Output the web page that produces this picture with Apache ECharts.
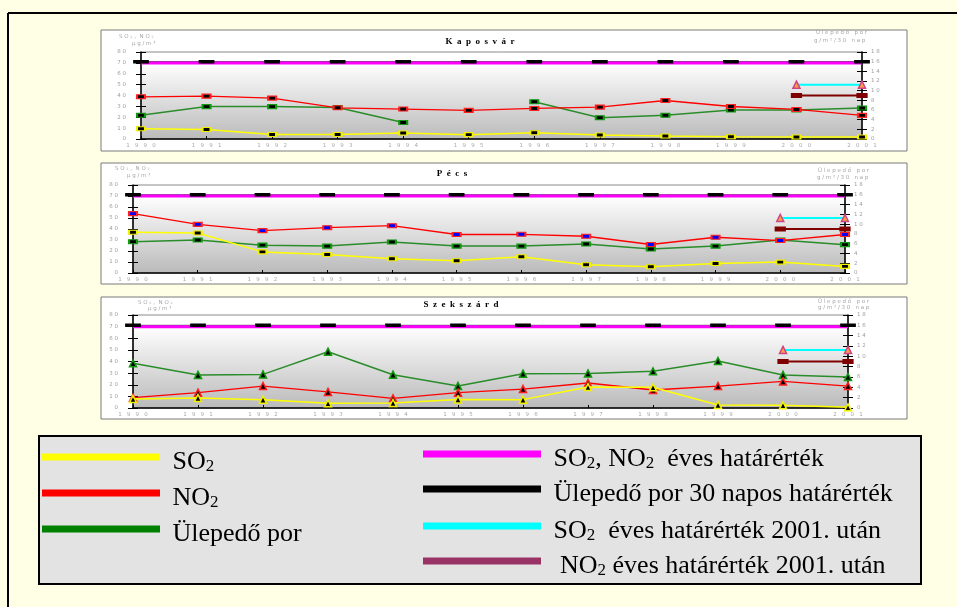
<!DOCTYPE html>
<html><head><meta charset="utf-8">
<script src="https://cdn.jsdelivr.net/npm/echarts@6/dist/echarts.min.js"></script>
<style>html,body{margin:0;padding:0;background:#FFFFE5;}#c{width:957px;height:607px;}</style>
</head><body><div id="c"></div>
<script>
// ---------- data ----------
const years = ['1990','1991','1992','1993','1994','1995','1996','1997','1998','1999','2000','2001'];

const kaposvarSO2  = [9.4, 8.8, 4.2, 4.2, 5.5, 4.0, 5.8, 3.7, 2.7, 2.1, 1.8, 1.8];
const kaposvarNO2  = [38.8, 39.4, 37.6, 28.7, 27.5, 26.3, 28.1, 29.3, 35.4, 29.9, 27.2, 21.7];
const kaposvarDust = [4.9, 6.7, 6.7, 6.5, 3.4, null, 7.7, 4.4, 4.9, 6.0, 6.0, 6.4];

const pecsSO2  = [37.0, 36.4, 19.2, 16.8, 12.9, 11.1, 14.7, 7.5, 5.7, 8.7, 9.9, 6.0];
const pecsNO2  = [54.0, 44.2, 38.5, 41.2, 43.0, 35.0, 35.2, 33.4, 25.9, 32.5, 29.5, 35.0];
const pecsDust = [6.4, 6.75, 5.7, 5.5, 6.35, 5.5, 5.5, 5.95, 4.9, 5.5, 6.75, 5.8];

const szekszardSO2  = [7.7, 8.6, 7.2, 4.0, 4.3, 7.4, 7.2, 18.0, 17.8, 2.6, 2.3, 0.6];
const szekszardNO2  = [8.9, 13.2, 18.9, 13.8, 8.3, 13.2, 16.3, 21.5, 15.5, 18.9, 22.9, 18.9];
const szekszardDust = [8.65, 6.4, 6.5, 10.9, 6.45, 4.25, 6.65, 6.7, 7.1, 9.1, 6.4, 6.0];

const limitAnnual       = [70, 70, 70, 70, 70, 70, 70, 70, 70, 70, 70, 70];
const limitDust30       = [16, 16, 16, 16, 16, 16, 16, 16, 16, 16, 16, 16];
const limitSO2After2001 = [null, null, null, null, null, null, null, null, null, null, 50, 50];
const limitNO2After2001 = [null, null, null, null, null, null, null, null, null, null, 40, 40];

const leftAxisRange  = [0, 80, 10];
const rightAxisRange = [0, 18, 2];

const panelTitles = ['K  a  p  o  s  v  á  r', 'P  é  c  s', 'S  z  e  k  s  z  á  r  d'];
const leftAxisName  = ['S O ₂ ,  N O ₂', 'µ g / m ³'];
const rightAxisName = ['Ü l e p e d ő   p o r', 'g / m ² / 3 0   n a p'];

// ---------- layout ----------
const SERIF = 'Liberation Serif';
const panels = [
  {title: panelTitles[0], so2: kaposvarSO2, no2: kaposvarNO2, dust: kaposvarDust,
   box: [101, 30, 806, 121], grid: [141, 52, 721, 87], titleXY: [480, 42],
   lName: [[119, 37], [132, 44]], rName: [[816, 33], [814, 41]],
   sym: 'rect', symSize: [8, 4], no2Fill: '#000'},
  {title: panelTitles[1], so2: pecsSO2, no2: pecsNO2, dust: pecsDust,
   box: [101, 163, 806, 121], grid: [133, 185, 712, 88], titleXY: [452, 174],
   lName: [[115, 169], [127, 176]], rName: [[818, 171], [817, 178]],
   sym: 'rect', symSize: [8, 4], no2Fill: '#0000ff'},
  {title: panelTitles[2], so2: szekszardSO2, no2: szekszardNO2, dust: szekszardDust,
   box: [101, 297, 806, 122], grid: [133, 315, 715, 93], titleXY: [461, 305],
   lName: [[138, 303], [148, 309]], rName: [[818, 302], [818, 308]],
   sym: 'triangle', symSize: 7, no2Fill: '#000'}
];

const spaced = v => String(v).split('').join(' ');
const grids = [], xAxes = [], yAxes = [], series = [], graphics = [];

graphics.push({type: 'line', z: -5, shape: {x1: 8, y1: 13, x2: 960, y2: 13}, style: {stroke: '#000', lineWidth: 2}});
graphics.push({type: 'line', z: -5, shape: {x1: 8, y1: 13, x2: 8, y2: 610}, style: {stroke: '#000', lineWidth: 2}});

function yAxisDef(i, pos, range, inside) {
  return {
    type: 'value', gridIndex: i, position: pos, min: range[0], max: range[1], interval: range[2],
    axisLine: {show: !inside, lineStyle: {color: '#000', width: 1.5}},
    axisTick: {show: true, inside: inside, length: 5, lineStyle: {color: '#000', width: 1}},
    axisLabel: {show: !inside, fontSize: 5.5, color: '#a0a0a0', fontFamily: 'DejaVu Sans',
                margin: pos === 'left' ? 15 : 9, formatter: v => spaced(v)},
    splitLine: {show: false}
  };
}

panels.forEach((p, i) => {
  graphics.push({type: 'rect', z: -4, shape: {x: p.box[0], y: p.box[1], width: p.box[2], height: p.box[3]},
                 style: {fill: '#ffffff', stroke: '#7a7a7a', lineWidth: 1}});
  graphics.push({type: 'text', z: 10, x: p.titleXY[0], y: p.titleXY[1],
                 style: {text: p.title, fontFamily: SERIF, fontSize: 9, fontWeight: 'bold', fill: '#000', align: 'center', verticalAlign: 'middle'}});
  [0, 1].forEach(k => {
    graphics.push({type: 'text', z: 10, x: p.lName[k][0], y: p.lName[k][1],
                   style: {text: leftAxisName[k], fontFamily: 'DejaVu Sans', fontSize: 5.5, fill: '#a8a8a8', verticalAlign: 'middle'}});
    graphics.push({type: 'text', z: 10, x: p.rName[k][0], y: p.rName[k][1],
                   style: {text: rightAxisName[k], fontFamily: 'DejaVu Sans', fontSize: 5.5, fill: '#a8a8a8', verticalAlign: 'middle'}});
  });

  grids.push({left: p.grid[0], top: p.grid[1], width: p.grid[2], height: p.grid[3], show: true,
    backgroundColor: new echarts.graphic.LinearGradient(0, 0, 0, 1, [
      {offset: 0, color: '#ffffff'}, {offset: 0.125, color: '#ffffff'}, {offset: 1, color: '#bababa'}]),
    borderColor: '#8a8a8a', borderWidth: 1});

  xAxes.push({type: 'category', gridIndex: i, data: years, boundaryGap: false,
    axisLine: {lineStyle: {color: '#000', width: 1.5}},
    axisTick: {inside: true, length: 3, lineStyle: {color: '#000'}},
    axisLabel: {fontSize: 5.5, color: '#a8a8a8', fontFamily: 'DejaVu Sans', margin: 4, formatter: v => spaced(v).replace(/ /g, '   ')},
    splitLine: {show: false}});

  const base = yAxes.length;
  yAxes.push(yAxisDef(i, 'left', leftAxisRange, false));
  yAxes.push(yAxisDef(i, 'left', leftAxisRange, true));
  yAxes.push(yAxisDef(i, 'right', rightAxisRange, false));
  yAxes.push(yAxisDef(i, 'right', rightAxisRange, true));

  const mk = (name, data, color, width, yIdx, sym, size, fill, border, z, lineOpacity) => ({
    name, type: 'line', xAxisIndex: i, yAxisIndex: base + yIdx, data, connectNulls: false,
    symbol: sym, symbolSize: size, showSymbol: sym !== 'none', z,
    lineStyle: {color, width, opacity: lineOpacity === undefined ? 1 : lineOpacity},
    itemStyle: {color: fill, borderColor: border, borderWidth: 1.5},
    emphasis: {disabled: true}, silent: true, animation: false
  });

  series.push(mk('Ülepedő por 30 napos határérték', limitDust30, '#333', 1, 2, 'none', 0, '#000', '#000', 1));
  series.push(mk('SO₂, NO₂ éves határérték', limitAnnual, '#ff00ff', 3, 0, 'none', 0, '#ff00ff', '#ff00ff', 2));
  series.push(mk('Ülepedő por 30 napos határérték', limitDust30, '#000', 0, 2, 'rect', [9, 2], '#000', '#000', 3, 0));
  series.push(mk('SO₂ éves határérték 2001. után', limitSO2After2001, '#00ffff', 2, 0, 'triangle', 7, '#ffa040', '#cc4488', 4));
  series.push(mk('NO₂ éves határérték 2001. után', limitNO2After2001, '#800000', 2, 0, 'rect', [9, 4], '#800000', '#800000', 4));
  series.push(mk('Ülepedő por', p.dust, '#2a8c2a', 1.5, 2, p.sym, p.symSize, '#000', '#119911', 5));
  series.push(mk('NO₂', p.no2, '#ff0000', 1.3, 0, p.sym, p.symSize, p.no2Fill, '#ff2020', 6));
  series.push(mk('SO₂', p.so2, '#ffff00', 1.5, 0, p.sym, p.symSize, '#000', '#f0f000', 7));
});

// ---------- legend ----------
graphics.push({type: 'rect', z: -3, shape: {x: 39, y: 436, width: 882, height: 148},
               style: {fill: '#e3e3e3', stroke: '#000', lineWidth: 2}});

const rich = {
  h: {fontFamily: SERIF, fontSize: 2, lineHeight: 36, width: 1, color: 'rgba(0,0,0,0)'},
  n: {fontFamily: SERIF, fontSize: 26, color: '#000', lineHeight: 28, verticalAlign: 'bottom'},
  s: {fontFamily: SERIF, fontSize: 17, color: '#000', lineHeight: 15, verticalAlign: 'bottom'}
};
const legendItems = [
  {name: 'SO₂', x: 42, y: 457, color: '#ffff00', label: '{h| }{n| SO}{s|2}'},
  {name: 'NO₂', x: 42, y: 493, color: '#ff0000', label: '{h| }{n| NO}{s|2}'},
  {name: 'Ülepedő por', x: 42, y: 529, color: '#008000', label: '{h| }{n| Ülepedő por}'},
  {name: 'SO₂, NO₂ éves határérték', x: 423, y: 454, color: '#ff00ff', label: '{h| }{n| SO}{s|2}{n|, NO}{s|2}{n|  éves határérték}'},
  {name: 'Ülepedő por 30 napos határérték', x: 423, y: 489, color: '#000000', label: '{h| }{n| Ülepedő por 30 napos határérték}'},
  {name: 'SO₂ éves határérték 2001. után', x: 423, y: 526, color: '#00ffff', label: '{h| }{n| SO}{s|2}{n|  éves határérték 2001. után}'},
  {name: 'NO₂ éves határérték 2001. után', x: 423, y: 561, color: '#993366', label: '{h| }{n|  NO}{s|2}{n| éves határérték 2001. után}'}
];
const legends = legendItems.map(it => ({
  left: it.x, top: it.y - 8, padding: 0, selectedMode: false, orient: 'vertical',
  itemWidth: 118, itemHeight: 7, icon: 'rect',
  data: [{name: it.name, icon: 'rect', itemStyle: {color: it.color, borderWidth: 0}}],
  formatter: () => it.label, textStyle: {fontFamily: SERIF, fontSize: 26, rich}
}));

const chart = echarts.init(document.getElementById('c'), null, {renderer: 'canvas'});
chart.setOption({
  backgroundColor: '#FFFFE5',
  animation: false,
  grid: grids, xAxis: xAxes, yAxis: yAxes, series, legend: legends,
  graphic: {elements: graphics}
});
</script></body></html>
